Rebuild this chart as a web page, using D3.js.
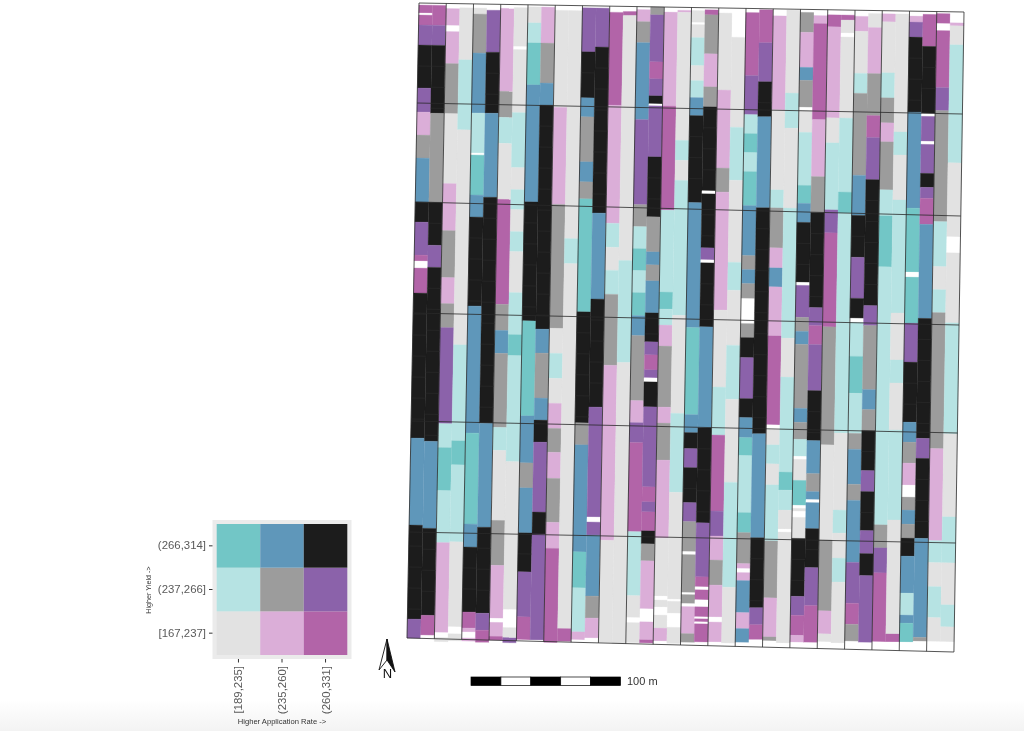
<!DOCTYPE html>
<html>
<head>
<meta charset="utf-8">
<script src="https://cdn.jsdelivr.net/npm/d3@7"></script>
<style>
  html, body { margin: 0; padding: 0; background: #fff; }
  svg { display: block; filter: blur(0.6px); }
  text { font-family: "Liberation Sans", Arial, sans-serif; }
</style>
</head>
<body>
<div class="canvas"></div>
<script>
// bivariate classes: L = low yield/low rate ... K = high yield/high rate, W = no data
const rateLabels = ["[189,235]", "(235,260]", "(260,331]"];
const yieldLabels = ["[167,237]", "(237,266]", "(266,314]"];
const legendClasses = [
  ["L", "P", "M"],
  ["T", "G", "V"],
  ["C", "B", "K"]
];
const classColors = {
  L: "#e2e2e2", P: "#dbaed8", M: "#b264a8",
  T: "#b6e3e3", G: "#9c9c9c", V: "#8b62aa",
  C: "#72c6c6", B: "#5f97ba", K: "#1c1c1c",
  W: "#ffffff"
};

// row boundaries, metres-like distance down the field, west and east edge
const rowBreaksWest = [0, 100, 199, 310, 418, 529, 635];
const rowBreaksEast = [0, 102, 204, 313, 421, 531, 640];
const scaleStops = [0, 20, 40, 60, 80, 100];

// one list per strip, west to east: class, distance where that class ends
const strips = [
  ["W",2,"M",10,"W",12,"M",22,"V",42,"K",85,"V",109,"P",132,"G",155,"B",199,"K",219,"V",252,"M",258,"W",265,"M",290,"K",435,"B",522,"K",616,"V",635],
  ["W",2,"M",22,"V",42,"K",110,"G",199,"K",242,"V",264,"K",438,"B",525,"K",612,"M",632,"W",636],
  ["W",5,"P",22,"W",28,"P",60,"G",110,"L",180,"P",227,"G",274,"P",300,"G",324,"V",420,"T",444,"C",487,"T",539,"P",629,"W",634,"L",638],
  ["W",4,"L",56,"T",126,"L",341,"T",437,"C",461,"T",538,"L",623,"W",630,"L",637],
  ["W",4,"L",10,"G",49,"B",109,"T",149,"W",151,"C",191,"B",213,"K",302,"B",429,"C",520,"B",543,"K",608,"M",624,"P",628,"W",634,"P",637],
  ["W",6,"V",48,"K",109,"B",193,"K",419,"B",523,"K",609,"V",626,"M",638],
  ["W",4,"P",87,"G",113,"T",139,"L",195,"M",300,"G",326,"B",349,"G",423,"T",446,"L",516,"G",561,"P",614,"W",618,"P",632,"M",636,"W",638],
  ["W",3,"L",42,"W",45,"L",108,"T",163,"L",185,"T",205,"L",227,"T",247,"L",288,"T",330,"C",351,"T",457,"L",605,"W",623,"L",633,"V",638],
  ["W",2,"L",18,"T",38,"C",80,"B",197,"K",316,"C",411,"B",458,"G",483,"B",528,"K",567,"V",612,"M",635,"W",638],
  ["W",2,"P",38,"G",78,"B",100,"K",324,"B",348,"G",393,"B",415,"K",437,"V",507,"K",529,"V",635,"W",638],
  ["W",5,"L",102,"P",199,"G",323,"L",348,"T",373,"L",398,"P",423,"G",447,"P",473,"G",517,"P",543,"M",637],
  ["W",5,"L",233,"T",258,"L",623,"M",636,"W",638],
  ["W",2,"V",46,"K",92,"B",111,"G",156,"B",176,"G",193,"C",306,"K",417,"G",439,"B",546,"C",582,"T",626,"P",634,"W",638],
  ["W",2,"V",41,"K",207,"B",293,"K",401,"V",511,"W",516,"V",529,"B",590,"G",612,"P",632,"W",638],
  ["W",6,"M",99,"P",217,"T",241,"L",264,"T",288,"G",359,"P",534,"L",636],
  ["W",5,"M",9,"L",254,"T",356,"L",637],
  ["W",3,"P",15,"G",36,"B",113,"V",198,"G",220,"T",242,"C",264,"T",286,"C",309,"B",329,"G",394,"P",416,"V",436,"M",525,"T",589,"L",611,"W",616,"L",636],
  ["G",8,"V",55,"M",72,"V",89,"K",97,"W",99,"V",150,"K",210,"G",245,"B",258,"G",274,"B",306,"K",335,"V",348,"M",363,"V",371,"W",375,"K",400,"V",480,"M",495,"V",505,"M",524,"K",537,"G",554,"P",602,"W",615,"P",633,"M",636],
  ["W",5,"P",99,"M",203,"T",285,"C",302,"T",318,"P",339,"G",400,"P",416,"G",453,"P",531,"L",589,"W",593,"L",600,"W",608,"L",621,"P",634,"W",636],
  ["W",3,"P",5,"L",133,"T",153,"L",173,"T",308,"L",406,"T",485,"L",592,"W",594,"L",606,"W",620,"L",636],
  ["W",3,"L",15,"W",17,"L",30,"T",58,"L",73,"T",90,"B",108,"K",195,"B",320,"C",407,"B",425,"K",441,"V",460,"K",495,"V",514,"G",544,"W",547,"G",585,"W",587,"G",596,"W",599,"P",626,"G",635,"W",640],
  ["W",2,"M",7,"G",46,"P",79,"G",99,"K",183,"W",186,"K",240,"V",252,"W",255,"K",319,"B",420,"K",515,"V",569,"M",579,"W",582,"M",592,"W",599,"M",609,"W",611,"M",614,"W",616,"M",634],
  ["W",5,"L",82,"P",160,"G",184,"P",302,"L",379,"T",427,"M",503,"V",528,"P",552,"G",577,"P",609,"W",614,"P",634,"W",639],
  ["W",29,"L",119,"T",172,"L",254,"T",282,"L",337,"T",391,"L",474,"T",579,"L",635,"W",639],
  ["W",4,"M",67,"V",106,"T",125,"C",144,"T",163,"C",197,"B",247,"G",261,"B",275,"G",290,"W",315,"G",329,"K",349,"V",390,"K",409,"B",429,"C",447,"T",504,"C",524,"G",555,"P",560,"W",564,"P",572,"B",604,"P",620,"B",634,"W",640],
  ["W",1,"M",34,"V",73,"K",108,"B",199,"K",425,"B",529,"K",599,"V",616,"M",631,"W",638],
  ["W",7,"P",101,"L",181,"T",199,"G",239,"P",259,"B",278,"P",327,"M",416,"W",421,"L",436,"T",455,"L",476,"T",532,"G",589,"P",628,"G",632,"W",639],
  ["W",1,"L",84,"T",119,"L",199,"T",329,"L",368,"T",463,"C",481,"T",501,"L",520,"W",523,"L",634,"W",639],
  ["W",3,"G",23,"P",58,"B",71,"G",98,"W",101,"L",123,"T",176,"C",194,"B",213,"K",273,"W",276,"V",308,"G",322,"B",335,"G",399,"B",413,"G",430,"T",447,"W",450,"L",471,"C",496,"W",499,"L",502,"W",508,"L",529,"K",587,"V",606,"M",626,"P",633,"W",640],
  ["W",6,"P",14,"M",110,"P",167,"G",203,"K",298,"V",316,"M",335,"V",381,"K",431,"B",464,"G",482,"B",490,"W",493,"B",519,"K",558,"V",596,"M",633,"W",640],
  ["W",5,"M",17,"P",108,"L",133,"T",200,"V",223,"M",317,"G",435,"L",530,"G",601,"P",624,"L",632,"W",640],
  ["W",5,"M",10,"L",23,"W",27,"L",108,"T",182,"C",203,"T",423,"L",500,"T",523,"L",548,"T",572,"L",633,"W",640],
  ["W",6,"P",21,"L",63,"T",83,"G",165,"B",205,"K",247,"V",288,"K",308,"W",312,"T",346,"C",383,"T",423,"G",439,"B",474,"G",490,"B",552,"V",593,"M",614,"G",631,"W",640],
  ["W",3,"L",17,"P",63,"G",105,"M",127,"V",169,"K",295,"V",315,"G",379,"B",399,"G",420,"K",460,"V",481,"K",520,"V",543,"K",565,"V",632,"W",641],
  ["W",3,"P",11,"L",62,"T",87,"G",112,"P",131,"G",179,"T",205,"C",256,"T",514,"G",537,"V",562,"M",631,"W",640],
  ["W",3,"L",121,"T",144,"L",189,"T",302,"L",349,"T",372,"L",419,"T",509,"L",623,"M",631,"W",640],
  ["W",5,"P",11,"V",26,"K",101,"B",197,"C",261,"W",266,"C",312,"V",351,"K",411,"B",431,"G",452,"P",474,"W",486,"G",499,"B",513,"G",527,"K",545,"B",582,"T",604,"B",612,"C",631,"W",641],
  ["W",3,"M",35,"K",102,"W",105,"V",130,"W",133,"V",162,"K",176,"V",187,"M",213,"B",307,"K",427,"V",447,"K",527,"B",626,"G",630,"W",641],
  ["W",2,"M",12,"W",19,"M",76,"V",99,"G",210,"T",255,"L",278,"T",301,"G",437,"P",529,"T",551,"L",575,"T",606,"L",630,"W",641],
  ["W",11,"P",14,"L",33,"T",151,"L",225,"W",241,"L",311,"T",422,"L",505,"T",551,"L",593,"T",615,"L",630,"W",641]
];

const svgWidth = 1024;
const svgHeight = 731;
const stripCount = strips.length;
const fieldLength = 636;
const cellLength = 21;

const svg = d3
  .select(".canvas")
  .append("svg")
  .attr("width", svgWidth)
  .attr("height", svgHeight);

// faint page shading along the bottom of the screenshot
const shade = svg
  .append("defs")
  .append("linearGradient")
  .attr("id", "shade")
  .attr("x1", 0)
  .attr("x2", 0)
  .attr("y1", 0)
  .attr("y2", 1);
shade.append("stop").attr("offset", 0).attr("stop-color", "#fff");
shade.append("stop").attr("offset", 1).attr("stop-color", "#f3f3f3");
svg
  .append("rect")
  .attr("x", 0)
  .attr("y", 700)
  .attr("width", svgWidth)
  .attr("height", 31)
  .attr("fill", "url(#shade)");

// the field sits slightly rotated, so strip + distance go through a skewed mapping
const xNorth = d3.scaleLinear().domain([0, stripCount]).range([419, 964]);
const xSouth = d3.scaleLinear().domain([0, stripCount]).range([407, 954]);
const yNorth = d3.scaleLinear().domain([0, stripCount]).range([3, 12]);
const along = d3.scaleLinear().domain([0, fieldLength]).range([0, fieldLength]);
const slant = d3.scaleLinear().domain([0, fieldLength]).range([0, 1]);
const southEdge = d3
  .scaleLinear()
  .domain([0, stripCount])
  .range([rowBreaksWest[6], rowBreaksEast[6]]);

const place = (s, d) => [
  xNorth(s) + (xSouth(s) - xNorth(s)) * slant(d),
  yNorth(s) + along(d)
];

const segments = [];
strips.forEach((row, s) => {
  let start = 0;
  for (let i = 0; i < row.length; i += 2) {
    segments.push({ strip: s, cls: row[i], from: start, to: row[i + 1] });
    start = row[i + 1];
  }
});

const field = svg.append("g").attr("class", "field");
const outline = d3.line();

field
  .selectAll("path.cell")
  .data(segments)
  .enter()
  .append("path")
  .attr("class", "cell")
  .attr("d", d =>
    outline([
      place(d.strip, d.from),
      place(d.strip + 1, d.from),
      place(d.strip + 1, d.to),
      place(d.strip, d.to)
    ]) + "Z"
  )
  .attr("fill", d => classColors[d.cls])
  .attr("stroke", d => classColors[d.cls])
  .attr("stroke-width", 0.3);

// the harvest cells only show through as faint seams in the black runs
const seams = [];
segments
  .filter(d => d.cls === "K")
  .forEach(d => {
    d3.range(d.from + cellLength, d.to - 4, cellLength).forEach(at => {
      seams.push({ strip: d.strip, at });
    });
  });

field
  .selectAll("line.seam")
  .data(seams)
  .enter()
  .append("line")
  .attr("class", "seam")
  .attr("x1", d => place(d.strip, d.at)[0])
  .attr("y1", d => place(d.strip, d.at)[1])
  .attr("x2", d => place(d.strip + 1, d.at)[0])
  .attr("y2", d => place(d.strip + 1, d.at)[1])
  .attr("stroke", "#2e2e2e")
  .attr("stroke-width", 0.5);

// plot boundaries: every second strip north-south, rep rows east-west
const plotEdges = d3.range(0, stripCount + 1, 2);
field
  .selectAll("line.plot")
  .data(plotEdges)
  .enter()
  .append("line")
  .attr("class", "plot")
  .attr("x1", d => place(d, 0)[0])
  .attr("y1", d => place(d, 0)[1])
  .attr("x2", d => place(d, southEdge(d))[0])
  .attr("y2", d => place(d, southEdge(d))[1])
  .attr("stroke", "#2a2a2a")
  .attr("stroke-width", 0.8);

field
  .selectAll("line.rep")
  .data(rowBreaksWest)
  .enter()
  .append("line")
  .attr("class", "rep")
  .attr("x1", d => place(0, d)[0])
  .attr("y1", d => place(0, d)[1])
  .attr("x2", (d, i) => place(stripCount, rowBreaksEast[i])[0])
  .attr("y2", (d, i) => place(stripCount, rowBreaksEast[i])[1])
  .attr("stroke", "#2a2a2a")
  .attr("stroke-width", 0.8);

// legend
const legend = svg.append("g").attr("class", "legend");
legend
  .append("rect")
  .attr("x", 212.5)
  .attr("y", 520)
  .attr("width", 139)
  .attr("height", 139)
  .attr("fill", "#ebebeb");

const xLegend = d3.scaleBand().domain(rateLabels).range([216.7, 347.3]);
const yLegend = d3.scaleBand().domain(yieldLabels).range([655, 524]);

const tiles = [];
legendClasses.forEach((row, r) => {
  row.forEach((cls, c) => {
    tiles.push({ rate: rateLabels[c], yield: yieldLabels[r], cls });
  });
});

legend
  .selectAll("rect.tile")
  .data(tiles)
  .enter()
  .append("rect")
  .attr("class", "tile")
  .attr("x", d => xLegend(d.rate))
  .attr("y", d => yLegend(d.yield))
  .attr("width", xLegend.bandwidth())
  .attr("height", yLegend.bandwidth())
  .attr("fill", d => classColors[d.cls]);

const xAxisGroup = legend
  .append("g")
  .attr("class", "x-axis")
  .attr("transform", "translate(0, 659)")
  .call(d3.axisBottom(xLegend).tickSize(3.5).tickPadding(2));
const yAxisGroup = legend
  .append("g")
  .attr("class", "y-axis")
  .attr("transform", "translate(212.5, 0)")
  .call(d3.axisLeft(yLegend).tickSize(3.5).tickPadding(3));

xAxisGroup.select(".domain").remove();
yAxisGroup.select(".domain").remove();

legend.selectAll(".tick line").attr("stroke", "#333");
legend
  .selectAll(".tick text")
  .attr("fill", "#5a5a5a")
  .style("font-size", "11.4px")
  .style("font-family", '"Liberation Sans", Arial, sans-serif');

xAxisGroup
  .selectAll("text")
  .attr("transform", "rotate(-90)")
  .attr("text-anchor", "end")
  .attr("x", -7)
  .attr("y", 0)
  .attr("dy", "0.35em");

legend
  .append("text")
  .attr("x", 282)
  .attr("y", 724)
  .attr("text-anchor", "middle")
  .attr("font-size", 7.6)
  .attr("fill", "#333")
  .text("Higher Application Rate ->");
legend
  .append("text")
  .attr("transform", "translate(151, 590) rotate(-90)")
  .attr("text-anchor", "middle")
  .attr("font-size", 7.2)
  .attr("fill", "#333")
  .text("Higher Yield ->");

// scale bar
const xBar = d3.scaleLinear().domain([0, 100]).range([471, 620.5]);
const bar = svg.append("g").attr("class", "scale-bar");
bar
  .selectAll("rect")
  .data(d3.pairs(scaleStops))
  .enter()
  .append("rect")
  .attr("x", d => xBar(d[0]))
  .attr("y", 677)
  .attr("width", d => xBar(d[1]) - xBar(d[0]))
  .attr("height", 8.5)
  .attr("fill", (d, i) => (i % 2 ? "#fff" : "#000"))
  .attr("stroke", "#000")
  .attr("stroke-width", 0.7);
bar
  .append("text")
  .attr("x", 627)
  .attr("y", 685)
  .attr("font-size", 11)
  .attr("fill", "#333")
  .text("100 m");

// north arrow
const arrow = svg.append("g").attr("class", "north").attr("transform", "translate(378, 639)");
arrow
  .append("path")
  .attr("d", "M9,0 L1,31 L9,21 Z")
  .attr("fill", "#fff")
  .attr("stroke", "#111")
  .attr("stroke-width", 0.9);
arrow
  .append("path")
  .attr("d", "M9,0 L17,33 L9,21 Z")
  .attr("fill", "#111")
  .attr("stroke", "#111")
  .attr("stroke-width", 0.9);
arrow
  .append("text")
  .attr("x", 9.5)
  .attr("y", 39)
  .attr("text-anchor", "middle")
  .attr("font-size", 13)
  .attr("fill", "#111")
  .text("N");
</script>
</body>
</html>
